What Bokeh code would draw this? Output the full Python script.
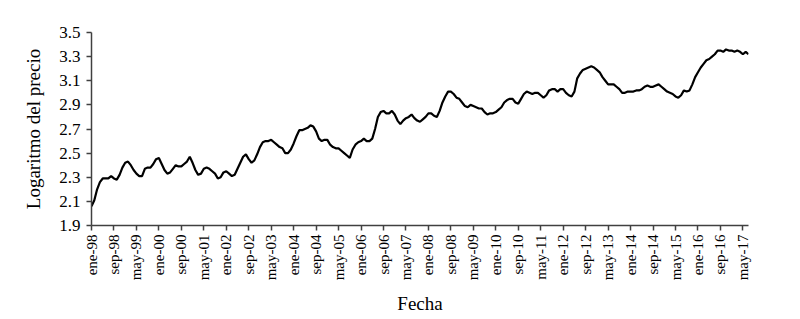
import math
from bokeh.plotting import figure
from bokeh.models import FixedTicker, Range1d, PrintfTickFormatter
from bokeh.embed import file_html
from bokeh.resources import INLINE

# Monthly log price, ene-98 .. jul-17 (235 months)
log_price = [
    2.06, 2.11, 2.20, 2.26, 2.29, 2.29, 2.29, 2.31, 2.29, 2.28, 2.32, 2.38,
    2.42, 2.43, 2.40, 2.36, 2.33, 2.31, 2.31, 2.37, 2.38, 2.38, 2.41, 2.45,
    2.46, 2.41, 2.36, 2.33, 2.34, 2.37, 2.40, 2.39, 2.39, 2.41, 2.43, 2.47,
    2.42, 2.36, 2.32, 2.33, 2.37, 2.38, 2.37, 2.35, 2.33, 2.29, 2.30, 2.34,
    2.35, 2.33, 2.31, 2.32, 2.37, 2.42, 2.47, 2.49, 2.45, 2.42, 2.44, 2.49,
    2.55, 2.59, 2.60, 2.60, 2.61, 2.59, 2.57, 2.55, 2.54, 2.50, 2.50, 2.53,
    2.58, 2.64, 2.69, 2.69, 2.70, 2.71, 2.73, 2.72, 2.68, 2.62, 2.60, 2.61,
    2.61, 2.57, 2.55, 2.54, 2.54, 2.52, 2.50, 2.48, 2.46, 2.53, 2.57, 2.59,
    2.60, 2.62, 2.60, 2.60, 2.62, 2.70, 2.80, 2.84, 2.85, 2.83, 2.83, 2.85,
    2.82, 2.77, 2.74, 2.77, 2.79, 2.80, 2.82, 2.79, 2.77, 2.76, 2.78, 2.80,
    2.83, 2.83, 2.81, 2.80, 2.85, 2.92, 2.97, 3.01, 3.01, 2.99, 2.96, 2.95,
    2.92, 2.89, 2.88, 2.90, 2.89, 2.88, 2.87, 2.87, 2.84, 2.82, 2.83, 2.83,
    2.84, 2.86, 2.88, 2.92, 2.94, 2.95, 2.95, 2.92, 2.91, 2.95, 2.99, 3.01,
    3.00, 2.99, 3.00, 3.00, 2.98, 2.96, 2.98, 3.02, 3.03, 3.03, 3.01, 3.03,
    3.03, 3.00, 2.98, 2.97, 3.01, 3.12, 3.16, 3.19, 3.20, 3.21, 3.22, 3.21,
    3.19, 3.17, 3.13, 3.10, 3.07, 3.07, 3.07, 3.05, 3.03, 3.00, 3.00, 3.01,
    3.01, 3.01, 3.02, 3.02, 3.03, 3.05, 3.06, 3.05, 3.05, 3.06, 3.07, 3.05,
    3.03, 3.01, 3.00, 2.99, 2.97, 2.96, 2.98, 3.02, 3.01, 3.02, 3.07, 3.13,
    3.17, 3.21, 3.24, 3.27, 3.28, 3.30, 3.32, 3.35, 3.35, 3.34, 3.36, 3.35,
    3.35, 3.34, 3.35, 3.34, 3.32, 3.34, 3.32,
]
month_index = list(range(len(log_price)))

tick_labels = [
    "ene-98", "sep-98", "may-99", "ene-00", "sep-00", "may-01", "ene-02",
    "sep-02", "may-03", "ene-04", "sep-04", "may-05", "ene-06", "sep-06",
    "may-07", "ene-08", "sep-08", "may-09", "ene-10", "sep-10", "may-11",
    "ene-12", "sep-12", "may-13", "ene-14", "sep-14", "may-15", "ene-16",
    "sep-16", "may-17",
]
tick_step = 8
tick_positions = [i * tick_step for i in range(len(tick_labels))]
y_ticks = [1.9, 2.1, 2.3, 2.5, 2.7, 2.9, 3.1, 3.3, 3.5]

FONT = "Liberation Serif"

p = figure(width=800, height=319, output_backend="svg", toolbar_location=None,
           x_range=Range1d(0, len(log_price) - 1), y_range=Range1d(1.9, 3.5),
           min_border_left=91, min_border_right=52, min_border_top=32,
           min_border_bottom=94)
p.outline_line_color = None
p.xgrid.visible = False
p.ygrid.visible = False
p.background_fill_color = "white"
p.border_fill_color = "white"

p.line(month_index, log_price, line_color="black", line_width=2.2)

ax = p.xaxis[0]
ax.ticker = FixedTicker(ticks=tick_positions)
ax.major_label_overrides = {t: l for t, l in zip(tick_positions, tick_labels)}
ax.major_label_orientation = math.pi / 2
ax.axis_label = "Fecha"

ay = p.yaxis[0]
ay.ticker = FixedTicker(ticks=y_ticks)
ay.formatter = PrintfTickFormatter(format="%.1f")
ay.axis_label = "Logaritmo del precio"

for a in (ax, ay):
    a.axis_line_color = "#404040"
    a.axis_line_width = 1.5
    a.major_tick_line_color = "#404040"
    a.major_tick_line_width = 1.5
    a.major_tick_out = 5
    a.major_tick_in = 0
    a.minor_tick_line_color = None
    a.major_label_text_font = FONT
    a.major_label_text_color = "black"
    a.axis_label_text_font = FONT
    a.axis_label_text_font_style = "normal"
    a.axis_label_text_color = "black"
    a.axis_label_text_font_size = "19px"

ax.major_label_text_font_size = "15px"
ax.major_label_standoff = 4
ax.axis_label_standoff = 10
ay.major_label_text_font_size = "17px"
ay.major_label_standoff = 6
ay.axis_label_standoff = 12

open("out.html", "w").write(file_html(p, INLINE))
